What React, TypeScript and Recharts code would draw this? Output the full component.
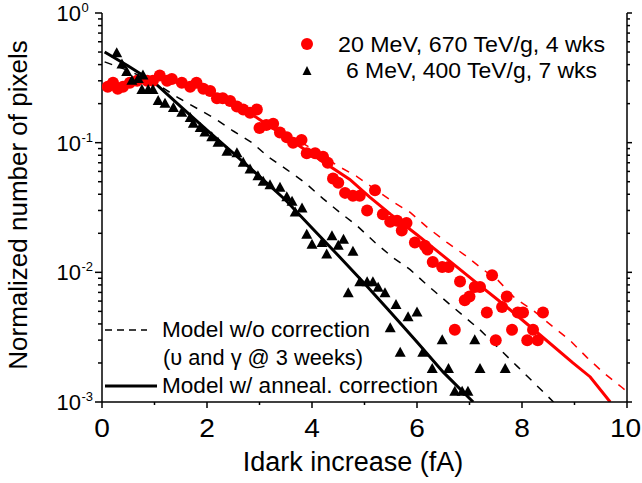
import React from 'react';
import { ComposedChart, XAxis, YAxis, Line, Scatter } from 'recharts';

const FONT = '"Liberation Sans", Arial, Helvetica, sans-serif';

// 20 MeV, 670 TeV/g, 4 wks (red circles) [Idark increase fA, normalized pixels]
const redPoints: [number, number][] = [
  [0.11, 0.27], [0.21, 0.29], [0.3, 0.26], [0.4, 0.27], [0.53, 0.29], [0.67, 0.3], [0.86, 0.3],
  [0.97, 0.3], [1.1, 0.33], [1.24, 0.3], [1.33, 0.31], [1.52, 0.29], [1.68, 0.27], [1.8, 0.29],
  [1.93, 0.26], [2.06, 0.25], [2.19, 0.22], [2.3, 0.22], [2.44, 0.21], [2.57, 0.19], [2.69, 0.18],
  [2.82, 0.17], [2.95, 0.18], [3.0, 0.13], [3.13, 0.137], [3.26, 0.14], [3.39, 0.12], [3.52, 0.11],
  [3.64, 0.1], [3.8, 0.105], [3.9, 0.083], [4.06, 0.083], [4.21, 0.078], [4.3, 0.07], [4.4, 0.053],
  [4.5, 0.049], [4.63, 0.041], [4.78, 0.039], [4.91, 0.039], [5.05, 0.03], [5.2, 0.043], [5.35, 0.028],
  [5.49, 0.0245], [5.62, 0.025], [5.8, 0.024], [5.71, 0.021], [5.96, 0.017], [6.15, 0.016], [6.2, 0.015],
  [6.3, 0.012], [6.48, 0.011], [6.6, 0.011], [6.82, 0.0085], [7.1, 0.0077], [7.2, 0.0077], [7.43, 0.0095],
  [6.91, 0.0061], [7.0, 0.0065], [7.33, 0.0049], [7.62, 0.0054], [7.71, 0.0065], [7.92, 0.0049],
  [8.02, 0.0049], [8.4, 0.0049], [6.72, 0.0036], [7.81, 0.0036], [8.21, 0.0036], [7.5, 0.003],
  [8.1, 0.003], [8.3, 0.003],
];

// 6 MeV, 400 TeV/g, 7 wks (black triangles)
const blackPoints: [number, number][] = [
  [0.28, 0.49], [0.38, 0.4], [0.47, 0.35], [0.57, 0.3], [0.69, 0.31], [0.78, 0.33], [0.76, 0.255],
  [0.88, 0.255], [0.97, 0.255], [1.07, 0.21], [1.2, 0.2], [1.36, 0.185], [1.52, 0.17], [1.68, 0.155],
  [1.74, 0.14], [1.87, 0.13], [1.96, 0.12], [2.09, 0.11], [2.21, 0.1], [2.38, 0.085], [2.57, 0.083],
  [2.69, 0.07], [2.82, 0.062], [2.97, 0.055], [3.07, 0.05], [3.2, 0.047], [3.39, 0.045], [3.52, 0.038],
  [3.62, 0.035], [3.81, 0.031], [3.68, 0.029], [3.9, 0.0195], [4.0, 0.0163], [4.19, 0.0168],
  [4.38, 0.019], [4.28, 0.0137], [4.5, 0.016], [4.6, 0.0178], [4.78, 0.0144], [4.91, 0.0084],
  [5.05, 0.0084], [5.16, 0.0084], [5.26, 0.0076], [5.39, 0.0069], [4.69, 0.0069], [5.6, 0.0056],
  [5.83, 0.0045], [6.0, 0.0049], [5.49, 0.0037], [6.48, 0.003], [7.1, 0.003], [5.68, 0.0024],
  [6.11, 0.0024], [6.29, 0.0018], [6.6, 0.0018], [7.2, 0.0018], [7.68, 0.0018], [6.72, 0.0012],
  [6.86, 0.0012], [6.97, 0.0012],
];

// Model curves
const blackSolid: [number, number][] = [
  [0.05, 0.5], [0.5, 0.39], [1.0, 0.29], [1.5, 0.19], [2.0, 0.125], [2.5, 0.083], [3.0, 0.055],
  [3.5, 0.036], [4.0, 0.022], [4.5, 0.0135], [5.0, 0.0082], [5.5, 0.0049], [6.0, 0.0029],
  [6.5, 0.0017], [7.07, 0.001],
];
const blackDashed: [number, number][] = [
  [0.05, 0.42], [0.5, 0.36], [1.0, 0.29], [1.47, 0.22], [1.85, 0.18], [2.19, 0.15], [2.5, 0.123],
  [2.86, 0.1], [3.16, 0.078], [3.52, 0.062], [3.87, 0.049], [4.21, 0.037], [4.53, 0.029],
  [4.85, 0.023], [5.2, 0.017], [5.54, 0.013], [5.87, 0.0105], [6.19, 0.008], [6.53, 0.0061],
  [7.2, 0.0036], [7.9, 0.0019], [8.6, 0.001],
];
const redSolid: [number, number][] = [
  [2.3, 0.225], [2.63, 0.19], [3.0, 0.151], [3.5, 0.111], [4.0, 0.081], [4.72, 0.052], [5.1, 0.038],
  [5.5, 0.028], [6.0, 0.0195], [6.44, 0.014], [7.07, 0.0087], [7.71, 0.0054], [8.34, 0.0033],
  [8.97, 0.002], [9.3, 0.00156], [9.68, 0.001],
];
const redDashed: [number, number][] = [
  [3.8, 0.1], [4.0, 0.09], [4.47, 0.067], [4.85, 0.055], [5.54, 0.035], [5.87, 0.029], [6.21, 0.022],
  [6.57, 0.017], [6.91, 0.0136], [7.26, 0.0105], [7.54, 0.0087], [7.87, 0.0063], [8.21, 0.0051],
  [8.59, 0.0038], [8.91, 0.003], [9.24, 0.0022], [9.54, 0.0017], [9.9, 0.0013], [10.0, 0.0012],
];

const xTicks = [0, 1, 2, 3, 4, 5, 6, 7, 8, 9, 10];
const xTickLabels = ['0', '', '2', '', '4', '', '6', '', '8', '', '10'];
const yTicks = [
  0.001, 0.002, 0.003, 0.004, 0.005, 0.006, 0.007, 0.008, 0.009,
  0.01, 0.02, 0.03, 0.04, 0.05, 0.06, 0.07, 0.08, 0.09,
  0.1, 0.2, 0.3, 0.4, 0.5, 0.6, 0.7, 0.8, 0.9, 1,
];
const yMajorExp: Record<string, string> = { '0.001': '-3', '0.01': '-2', '0.1': '-1', '1': '0' };

const legendSeries = ['20 MeV, 670 TeV/g, 4 wks', '6 MeV, 400 TeV/g, 7 wks'];
const legendModels = ['Model w/o correction', '(\u03C5 and \u03B3 @ 3 weeks)', 'Model w/ anneal. correction'];

const toObj = (arr: [number, number][]) => arr.map(([x, y]) => ({ x, y }));

const RedDot = (p: any) => <circle cx={p.cx} cy={p.cy} r={6} fill="#ff0000" />;
const Tri = (p: any) => (
  <polygon
    points={`${p.cx},${p.cy - 6} ${p.cx + 5.5},${p.cy + 4} ${p.cx - 5.5},${p.cy + 4}`}
    fill="#000"
  />
);

const BottomTick = (p: any) => {
  const { x, y, index } = p;
  const label = xTickLabels[index] ?? '';
  const major = label !== '';
  const lx = label.length > 1 ? x - 1.5 : x;
  return (
    <g>
      <line x1={x} x2={x} y1={y} y2={y + (major ? 6 : 3)} stroke="#000" strokeWidth={1.5} />
      {major && (
        <text
          transform={`translate(${lx},${y + 35}) scale(1.08,1)`}
          textAnchor="middle"
          fontSize={26}
          fontFamily={FONT}
          fill="#000"
        >
          {label}
        </text>
      )}
    </g>
  );
};

const TopTick = (p: any) => {
  const { x, y } = p;
  return <line x1={x} x2={x} y1={y} y2={y + 3} stroke="#000" strokeWidth={1.5} />;
};

const LeftTick = (p: any) => {
  const { x, y, payload } = p;
  const exp = yMajorExp[String(payload.value)];
  const major = exp !== undefined;
  return (
    <g>
      <line x1={x} x2={x - (major ? 7 : 4)} y1={y} y2={y} stroke="#000" strokeWidth={1.5} />
      {major && (
        <g fontFamily={FONT} fill="#000">
          <text x={x - 21} y={y + 8} textAnchor="end" fontSize={22}>10</text>
          <text x={x - 20.5} y={y - 1} textAnchor="start" fontSize={13}>{exp}</text>
        </g>
      )}
    </g>
  );
};

const RightTick = (p: any) => {
  const { x, y, payload } = p;
  const major = yMajorExp[String(payload.value)] !== undefined;
  return <line x1={x} x2={x + (major ? 5 : 3)} y1={y} y2={y} stroke="#000" strokeWidth={1.5} />;
};

export default function App() {
  const axisLine = { stroke: '#000', strokeWidth: 1.5 };
  return (
    <div style={{ position: 'absolute', left: 0, top: 0, width: 642, height: 483, background: '#fff' }}>
      <ComposedChart width={642} height={483} margin={{ top: 13, right: 0, bottom: 0, left: 0 }}>
        <XAxis
          xAxisId={0}
          dataKey="x"
          type="number"
          domain={[0, 10]}
          ticks={xTicks}
          interval={0}
          height={81}
          tickSize={0}
          tickMargin={0}
          tickLine={false}
          axisLine={axisLine}
          tick={<BottomTick />}
          allowDataOverflow
        />
        <XAxis
          xAxisId="top"
          orientation="top"
          type="number"
          domain={[0, 10]}
          ticks={xTicks}
          interval={0}
          height={0}
          tickSize={0}
          tickMargin={0}
          tickLine={false}
          axisLine={axisLine}
          tick={<TopTick />}
          allowDataOverflow
        />
        <YAxis
          yAxisId={0}
          dataKey="y"
          type="number"
          scale="log"
          domain={[0.001, 1]}
          ticks={yTicks}
          interval={0}
          width={102}
          tickSize={0}
          tickMargin={0}
          tickLine={false}
          axisLine={axisLine}
          tick={<LeftTick />}
          allowDataOverflow
        />
        <YAxis
          yAxisId="right"
          orientation="right"
          type="number"
          scale="log"
          domain={[0.001, 1]}
          ticks={yTicks}
          interval={0}
          width={15}
          tickSize={0}
          tickMargin={0}
          tickLine={false}
          axisLine={axisLine}
          tick={<RightTick />}
          allowDataOverflow
        />
        <Scatter data={toObj(redPoints)} dataKey="y" shape={<RedDot />} isAnimationActive={false} />
        <Scatter data={toObj(blackPoints)} dataKey="y" shape={<Tri />} isAnimationActive={false} />
        <Line data={toObj(blackDashed)} dataKey="y" type="linear" stroke="#000" strokeWidth={1.5}
          strokeDasharray="8 8" dot={false} activeDot={false} isAnimationActive={false} />
        <Line data={toObj(redDashed)} dataKey="y" type="linear" stroke="#ff0000" strokeWidth={1.5}
          strokeDasharray="8 8" dot={false} activeDot={false} isAnimationActive={false} />
        <Line data={toObj(redSolid)} dataKey="y" type="linear" stroke="#ff0000" strokeWidth={3}
          dot={false} activeDot={false} isAnimationActive={false} />
        <Line data={toObj(blackSolid)} dataKey="y" type="linear" stroke="#000" strokeWidth={3}
          dot={false} activeDot={false} isAnimationActive={false} />
      </ComposedChart>
      <svg
        width={642}
        height={483}
        style={{ position: 'absolute', left: 0, top: 0, pointerEvents: 'none' }}
        fontFamily={FONT}
      >
        <circle cx={307} cy={44} r={6} fill="#ff0000" />
        <text x={338} y={52} fontSize={22} textLength={267} lengthAdjust="spacingAndGlyphs" fill="#000">
          {legendSeries[0]}
        </text>
        <polygon points="307,66 311.5,75 302.5,75" fill="#000" />
        <text x={346} y={78} fontSize={22} textLength={251} lengthAdjust="spacingAndGlyphs" fill="#000">
          {legendSeries[1]}
        </text>

        <line x1={105} x2={147} y1={330} y2={330} stroke="#000" strokeWidth={1.5} strokeDasharray="7 5" />
        <text x={162} y={337} fontSize={22} textLength={208} lengthAdjust="spacingAndGlyphs" fill="#000">
          {legendModels[0]}
        </text>
        <text x={163} y={365} fontSize={22} textLength={200} lengthAdjust="spacingAndGlyphs" fill="#000">
          {legendModels[1]}
        </text>
        <line x1={105} x2={157} y1={386} y2={386} stroke="#000" strokeWidth={3} />
        <text x={162} y={393} fontSize={22} textLength={276} lengthAdjust="spacingAndGlyphs" fill="#000">
          {legendModels[2]}
        </text>

        <text x={353} y={471} fontSize={27} textAnchor="middle" fill="#000">
          Idark increase (fA)
        </text>
        <text transform="translate(27,205) rotate(-90)" fontSize={26} textAnchor="middle" fill="#000">
          Normalized number of pixels
        </text>
      </svg>
    </div>
  );
}
